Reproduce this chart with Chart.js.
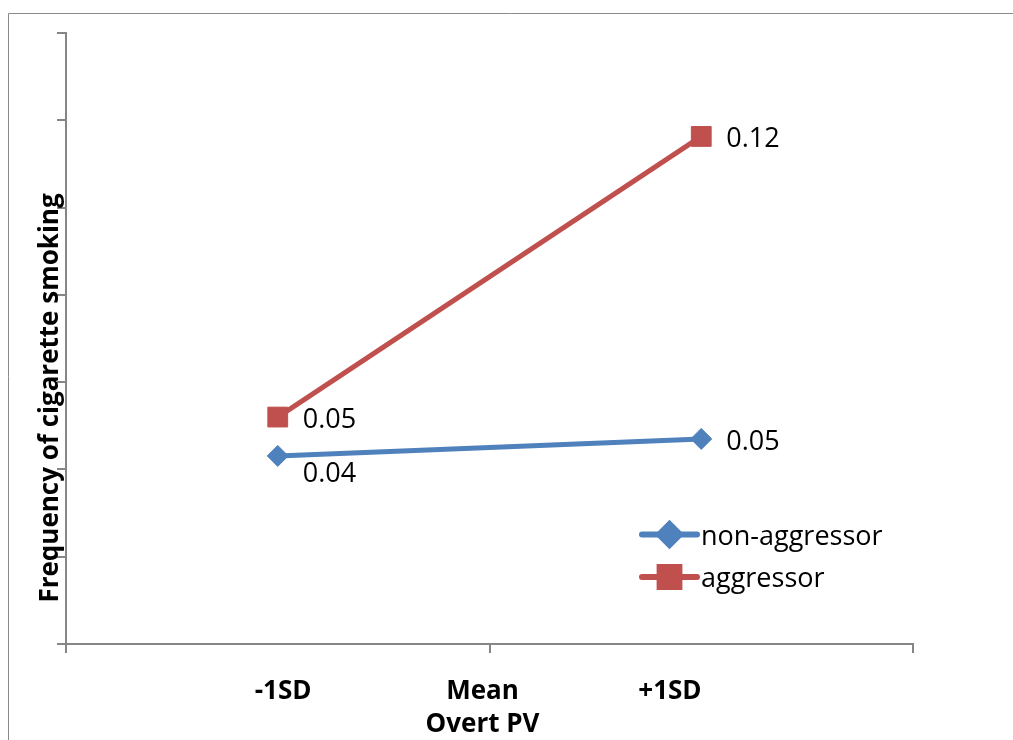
<!DOCTYPE html>
<html>
<head>
<meta charset="utf-8">
<title>Frequency of cigarette smoking by Overt PV</title>
<script src="https://cdn.jsdelivr.net/npm/chart.js@4.4.1/dist/chart.umd.min.js"></script>
<style>
  html, body { margin: 0; padding: 0; background: #ffffff; }
  #wrap { position: relative; width: 1013px; height: 740px; }
</style>
</head>
<body>
<div id="wrap"><canvas id="chart" width="1013" height="740"></canvas></div>
<script>
// Overt PV levels shown under the axis
const levelLabels = ['-1SD', 'Mean', '+1SD'];
// where the two simple slopes are evaluated on the Overt PV axis (mean sits at 2)
const pointLevels = [1, 3];
// predicted frequency of cigarette smoking
const nonAggressor = [0.0431, 0.0470];
const aggressor = [0.0520, 0.1163];
const seriesNames = ['non-aggressor', 'aggressor'];
// y axis tick marks (no numbers are printed)
const yTickValues = [0, 0.02, 0.04, 0.06, 0.08, 0.10, 0.12, 0.14];
// x axis tick marks: left edge, mean, right edge
const xTickValues = [0, 2, 4];

const FONT = '"Open Sans", "Liberation Sans", Arial, sans-serif';
const AXIS_GREY = '#868686';
const BLUE = '#4F81BD';
const RED = '#C0504D';

// horizontal anchor of each level label along the Overt PV axis
const levelLabelAt = [1.025, 1.967, 2.852];

function toPoints(values) {
  return values.map((v, i) => ({ x: pointLevels[i], y: v }));
}

// thin frame at the top-left of the figure
const framePlugin = {
  id: 'frame',
  beforeDraw(chart) {
    const ctx = chart.ctx;
    ctx.save();
    ctx.strokeStyle = '#8a8a8a';
    ctx.lineWidth = 1;
    ctx.beginPath();
    ctx.moveTo(8.5, chart.height);
    ctx.lineTo(8.5, 13.5);
    ctx.lineTo(chart.width, 13.5);
    ctx.stroke();
    ctx.restore();
  }
};

// axis titles
const titlesPlugin = {
  id: 'axisTitles',
  afterDraw(chart) {
    const ctx = chart.ctx;
    ctx.save();
    ctx.fillStyle = '#000000';
    ctx.font = 'bold 26px ' + FONT;
    ctx.textAlign = 'center';
    ctx.textBaseline = 'alphabetic';
    ctx.fillText('Overt PV', 482.5, 732);
    ctx.translate(58, 398);
    ctx.rotate(-Math.PI / 2);
    ctx.fillText('Frequency of cigarette smoking', 0, 0);
    ctx.restore();
  }
};

// value labels beside each marker
const valueLabelsPlugin = {
  id: 'valueLabels',
  afterDatasetsDraw(chart, args, opts) {
    const ctx = chart.ctx;
    ctx.save();
    ctx.fillStyle = '#000000';
    ctx.font = '27px ' + FONT;
    ctx.textAlign = 'left';
    ctx.textBaseline = 'alphabetic';
    chart.data.datasets.forEach((ds, di) => {
      const meta = chart.getDatasetMeta(di);
      meta.data.forEach((pt, i) => {
        const shift = (opts.below[di] && opts.below[di][i]) ? 26 : 11;
        ctx.fillText(ds.data[i].y.toFixed(2), pt.x + 25, pt.y + shift);
      });
    });
    ctx.restore();
  }
};

// legend inside the plot, lower right
const legendPlugin = {
  id: 'insideLegend',
  afterDraw(chart) {
    const ctx = chart.ctx;
    const rows = [534.5, 577];
    chart.data.datasets.forEach((ds, di) => {
      const y = rows[di];
      ctx.save();
      ctx.strokeStyle = ds.borderColor;
      ctx.lineWidth = 6;
      ctx.lineCap = 'round';
      ctx.beginPath();
      ctx.moveTo(642, y);
      ctx.lineTo(697, y);
      ctx.stroke();
      ctx.fillStyle = ds.pointBackgroundColor;
      ctx.strokeStyle = ds.pointBorderColor;
      Chart.helpers.drawPoint(ctx, {
        pointStyle: ds.pointStyle,
        radius: ds.pointRadius,
        rotation: 0,
        borderWidth: ds.pointBorderWidth
      }, 669.5, y);
      ctx.fillStyle = '#000000';
      ctx.font = '27px ' + FONT;
      ctx.textAlign = 'left';
      ctx.textBaseline = 'alphabetic';
      ctx.fillText(ds.label, 701, y + 10);
      ctx.restore();
    });
  }
};

new Chart(document.getElementById('chart'), {
  type: 'line',
  data: {
    datasets: [
      {
        label: seriesNames[0],
        data: toPoints(nonAggressor),
        borderColor: BLUE,
        borderWidth: 5,
        pointStyle: 'rectRot',
        pointRadius: 10.5,
        pointBackgroundColor: BLUE,
        pointBorderColor: BLUE,
        pointBorderWidth: 1,
        tension: 0
      },
      {
        label: seriesNames[1],
        data: toPoints(aggressor),
        borderColor: RED,
        borderWidth: 5,
        pointStyle: 'rect',
        pointRadius: 14,
        pointBackgroundColor: RED,
        pointBorderColor: RED,
        pointBorderWidth: 1,
        tension: 0
      }
    ]
  },
  options: {
    responsive: false,
    animation: false,
    devicePixelRatio: 1,
    layout: { padding: { top: 33, right: 100, left: 0, bottom: 0 } },
    plugins: {
      legend: { display: false },
      tooltip: { enabled: false },
      valueLabels: { below: [[true, false], [false, false]] }
    },
    scales: {
      x: {
        type: 'linear',
        position: 'bottom',
        weight: 0,
        min: 0,
        max: 4,
        afterBuildTicks: s => { s.ticks = xTickValues.map(v => ({ value: v })); },
        ticks: { display: false },
        grid: { drawOnChartArea: false, drawTicks: true, tickLength: 9, color: AXIS_GREY, lineWidth: 2 },
        border: { color: AXIS_GREY, width: 2 },
        afterFit: s => { s.height = 10; }
      },
      levels: {
        type: 'linear',
        position: 'bottom',
        weight: 1,
        min: 0,
        max: 4,
        afterBuildTicks: s => { s.ticks = levelLabelAt.map(v => ({ value: v })); },
        ticks: {
          callback: (v, i) => levelLabels[i],
          color: '#000000',
          font: { family: FONT, size: 26, weight: 'bold' },
          padding: 14,
          maxRotation: 0,
          autoSkip: false
        },
        grid: { display: false },
        border: { display: false },
        afterFit: s => { s.height = 86; }
      },
      y: {
        type: 'linear',
        min: 0,
        max: 0.14,
        afterBuildTicks: s => { s.ticks = yTickValues.map(v => ({ value: v })); },
        ticks: { display: false },
        grid: { drawOnChartArea: false, drawTicks: true, tickLength: 9, color: AXIS_GREY, lineWidth: 2 },
        border: { color: AXIS_GREY, width: 2 },
        afterFit: s => { s.width = 66; }
      }
    }
  },
  plugins: [framePlugin, valueLabelsPlugin, legendPlugin, titlesPlugin]
});
</script>
</body>
</html>
